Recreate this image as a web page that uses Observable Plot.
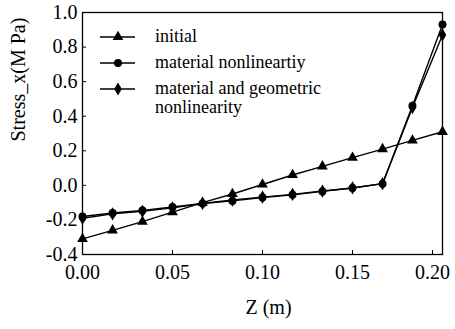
<!DOCTYPE html>
<html lang="en"><head><meta charset="utf-8">
<script src="https://cdn.jsdelivr.net/npm/d3@7"></script>
<script src="https://cdn.jsdelivr.net/npm/@observablehq/plot@0.6"></script>
<style>
html, body, div, svg, text, tspan { font-family: "Liberation Serif" !important; }
body{margin:0;background:#fff;}
#wrap{position:relative;width:455px;height:329px;}
#legend{position:absolute;left:98px;top:27px;font-size:18px;line-height:19px;color:#000;}
.row{display:flex;align-items:flex-start;margin-bottom:7px;}
.row svg{flex:none;margin-right:19px;}
</style></head>
<body><div id="wrap"><div id="chart"></div><div id="legend"></div></div>
<script>
const z = [0, 0.0167, 0.0333, 0.05, 0.0667, 0.0833, 0.1, 0.1167, 0.1333, 0.15, 0.1667, 0.1833, 0.2];
const initial = [-0.31, -0.26, -0.21, -0.155, -0.10, -0.05, 0.005, 0.06, 0.11, 0.16, 0.21, 0.26, 0.31];
const material = [-0.18, -0.16, -0.145, -0.125, -0.105, -0.09, -0.07, -0.055, -0.035, -0.015, 0.01, 0.46, 0.93];
const matGeo = [-0.19, -0.165, -0.15, -0.13, -0.105, -0.085, -0.068, -0.052, -0.033, -0.015, 0.01, 0.45, 0.87];
const seriesNames = ["initial", "material nonlineartiy", "material and geometric\nnonlinearity"];
const symbols = ["triangle", "circle", "diamond"];
const xTicks = [0, 0.05, 0.1, 0.15, 0.2];
const yTicks = [-0.4, -0.2, 0, 0.2, 0.4, 0.6, 0.8, 1.0];

const allSeries = [initial, material, matGeo];
const data = [];
allSeries.forEach((vals, i) => vals.forEach((v, j) => data.push({z: z[j], s: v, series: seriesNames[i], sym: symbols[i]})));

const font = "Liberation Serif";
const fmt = (p) => (d) => d.toFixed(p);
const chart = Plot.plot({
  width: 455, height: 329,
  marginLeft: 82, marginRight: 13, marginTop: 12, marginBottom: 75,
  style: {fontFamily: font, fontSize: "20px", color: "#000", background: "#fff"},
  x: {domain: [0, 0.2]},
  y: {domain: [-0.4, 1.0]},
  marks: [
    Plot.frame({stroke: "#000", strokeWidth: 1.3}),
    Plot.axisX({ticks: xTicks.slice(0, -1), tickSize: -4, tickPadding: 14, tickFormat: fmt(2), label: null, fontSize: 20}),
    Plot.axisX({ticks: xTicks.slice(-1), tickSize: -4, tickPadding: 14, tickFormat: fmt(2), label: null, fontSize: 20, dx: -10}),
    Plot.axisY({ticks: yTicks, tickSize: -4, tickPadding: 9, tickFormat: fmt(1), label: null, fontSize: 20}),
    Plot.text(["Z (m)"], {frameAnchor: "bottom", dx: 6, dy: 59, fontSize: 20}),
    Plot.text(["Stress_x(M Pa)"], {frameAnchor: "left", dx: -64, dy: 8, rotate: -90, fontSize: 20}),
    Plot.line(data, {x: "z", y: "s", z: "series", stroke: "#000", strokeWidth: 1.4}),
    Plot.dot(data, {x: "z", y: "s", symbol: "sym", fill: "#000", stroke: "none", r: 4})
  ]
});
document.getElementById("chart").appendChild(chart);

const legend = document.getElementById("legend");
seriesNames.forEach((name, i) => {
  const row = document.createElement("div");
  row.className = "row";
  const s = d3.create("svg").attr("width", 38).attr("height", 19);
  s.append("line").attr("x1", 2).attr("x2", 37).attr("y1", 10).attr("y2", 10).attr("stroke", "#000").attr("stroke-width", 1.4);
  const symType = [d3.symbolTriangle, d3.symbolCircle, d3.symbolDiamond][i];
  s.append("path").attr("transform", "translate(20,10)").attr("d", d3.symbol(symType, 50)()).attr("fill", "#000");
  row.appendChild(s.node());
  const t = document.createElement("div");
  t.innerHTML = name.replace("\n", "<br>");
  row.appendChild(t);
  legend.appendChild(row);
});
</script></body></html>
